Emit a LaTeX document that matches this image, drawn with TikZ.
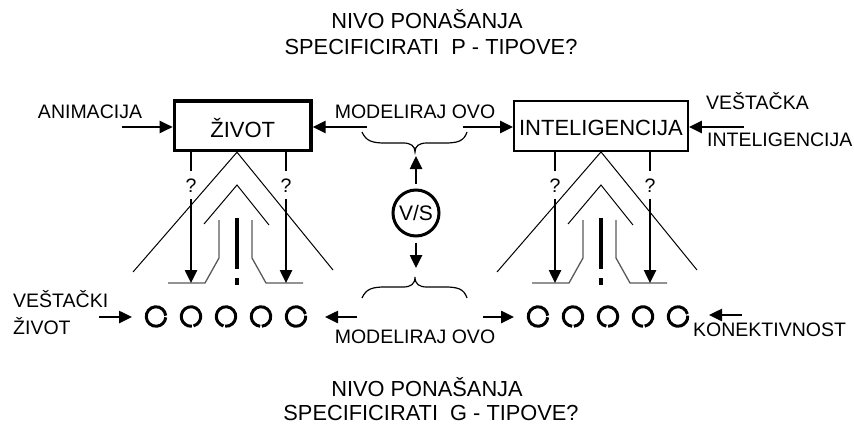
\documentclass[tikz,border=0pt]{standalone}
\usepackage{fontspec}
\setmainfont{Liberation Sans}
\usetikzlibrary{arrows.meta}
\begin{document}
\begin{tikzpicture}[x=1pt,y=-1pt,
  ttl/.style={font=\fontsize{21.8}{24}\selectfont, inner sep=0pt, text height=15.6pt, text depth=0pt},
  lbl/.style={font=\fontsize{19.5}{22}\selectfont, inner sep=0pt, text height=14pt, text depth=0pt},
  boxtxt/.style={font=\fontsize{22}{24}\selectfont, inner sep=0pt, text depth=0pt},
  arr/.style={line width=2.5pt, -{Triangle[length=13pt,width=12pt]}},
  thinln/.style={line width=1pt},
  gryln/.style={line width=1.3pt, draw=black!65},
  unit/.style={circle, minimum size=19.5pt, inner sep=0pt},
  ring/.style={line width=3pt},
  qm/.style={lbl, inner ysep=7pt},
  bracestyle/.style={line width=1.2pt},
]
\useasboundingbox (0,0) rectangle (854,428);

% titles
\node[ttl] (t1) at (427,20.8) {NIVO PONAŠANJA};
\node[ttl] (t2) at (431,46.7) {SPECIFICIRATI\ \ P - TIPOVE?};
\node[ttl] (b1) at (427,389) {NIVO PONAŠANJA};
\node[ttl] (b2) at (431,412.5) {SPECIFICIRATI\ \ G - TIPOVE?};

% boxes
\node[draw, line width=3.5pt, minimum width=136.5pt, minimum height=49.5pt, boxtxt, text height=23pt] (zivot) at (242.7,125.7) {ŽIVOT};
\node[draw, line width=1.8pt, minimum width=174pt, minimum height=50pt, boxtxt, text height=19pt] (intel) at (601,126) {INTELIGENCIJA};

% labels
\node[lbl] (anim) at (90,111.5) {ANIMACIJA};
\node[lbl] (modtop) at (415,111.5) {MODELIRAJ OVO};
\node[lbl] (modbot) at (415,336) {MODELIRAJ OVO};
\node[lbl, anchor=west] (vestacka) at (706,103) {VEŠTAČKA};
\node[lbl, anchor=west] (intelr) at (707,139.5) {INTELIGENCIJA};
\node[lbl, anchor=west] (vestacki) at (13,300) {VEŠTAČKI};
\node[lbl, anchor=west] (zivotl) at (13,327) {ŽIVOT};
\node[lbl, anchor=west] (konekt) at (693,329.5) {KONEKTIVNOST};

% V/S
\node[circle, draw, line width=3pt, minimum size=46pt, inner sep=0pt, font=\fontsize{21}{24}\selectfont] (vs) at (416,213) {V/S};

% braces
\draw[bracestyle] (362,132) .. controls (366,141) and (372,143) .. (385,143) -- (403,143)
  .. controls (411,143) and (415,146) .. (415,152) coordinate (bracetop)
  .. controls (415,146) and (419,143) .. (427,143) -- (445,143)
  .. controls (458,143) and (464,141) .. (467,132);
\draw[bracestyle] (362,298) .. controls (366,289) and (372,287) .. (385,287) -- (403,287)
  .. controls (411,287) and (415,284) .. (415,277) coordinate (bracebot)
  .. controls (415,284) and (419,287) .. (427,287) -- (445,287)
  .. controls (458,287) and (464,289) .. (467,298);

% top arrows
\coordinate (animS) at (122,127);
\coordinate (modL) at (367,127);
\coordinate (modR) at (463,127);
\coordinate (vestS) at (744,127);
\draw[arr] (animS) -- (zivot.west |- animS);
\draw[arr] (modL) -- (zivot.east |- modL);
\draw[arr] (modR) -- (intel.west |- modR);
\draw[arr] (vestS) -- (intel.east |- vestS);

% V/S arrows
\coordinate (vsUp) at (416,156);
\coordinate (vsDn) at (416,268);
\draw[arr, shorten <=5pt] (vs.north) -- (vsUp);
\draw[arr, shorten <=5pt] (vs.south) -- (vsDn);

% units (circles, each with a hairline break)
\foreach \i/\x/\g in {1/156/0,2/191/-80,3/226/-100,4/261/-90,5/296/10} {
  \node[unit] (L\i) at (\x,316.5) {};
  \draw[ring] ([shift={(\g+5:9.75pt)}]L\i.center) arc[start angle=\g+5, end angle=\g+355, radius=9.75pt];
}
\foreach \i/\x/\g in {1/538/0,2/573/-90,3/608/-95,4/643/-85,5/678/10} {
  \node[unit] (R\i) at (\x,316.5) {};
  \draw[ring] ([shift={(\g+5:9.75pt)}]R\i.center) arc[start angle=\g+5, end angle=\g+355, radius=9.75pt];
}

% bottom arrows
\coordinate (vkS) at (99,317);  \coordinate (vkE) at (132,317);
\coordinate (mlS) at (357,317); \coordinate (mlE) at (325,317);
\coordinate (mrS) at (483,317); \coordinate (mrE) at (514,317);
\coordinate (knS) at (742,315); \coordinate (knE) at (709,315);
\draw[arr] (vkS) -- (vkE);
\draw[arr] (mlS) -- (mlE);
\draw[arr] (mrS) -- (mrE);
\draw[arr] (knS) -- (knE);

% structures under boxes
\foreach \cx/\bx/\s in {237/zivot/L, 601/intel/R} {
  \draw[thinln] (\cx-104,272) -- (\bx.south -| {\cx,0}) -- (\cx+96,270);
  \draw[thinln] (\cx-33,224) -- (\cx,185) -- (\cx+32,225);
  \draw[gryln] (\cx-18,220) -- (\cx-18,258) -- (\cx-32,283) -- (\cx-69,283);
  \draw[gryln] (\cx+15,220) -- (\cx+15,258) -- (\cx+29,283) -- (\cx+66,283);
  \draw[line width=4pt] (\cx,218) -- (\cx,269);
  \draw[line width=4pt] (\cx,278) -- (\cx,285);
  \node[qm] (q\s a) at (\cx-46,185) {?};
  \node[qm] (q\s b) at (\cx+49,185) {?};
  \coordinate (e\s a) at (\cx-46,283);
  \coordinate (e\s b) at (\cx+49,283);
  \draw[line width=2.5pt] (\bx.south -| q\s a) -- (q\s a.north);
  \draw[line width=2.5pt] (\bx.south -| q\s b) -- (q\s b.north);
  \draw[arr] (q\s a.south) -- (e\s a);
  \draw[arr] (q\s b.south) -- (e\s b);
}
\end{tikzpicture}
\end{document}
